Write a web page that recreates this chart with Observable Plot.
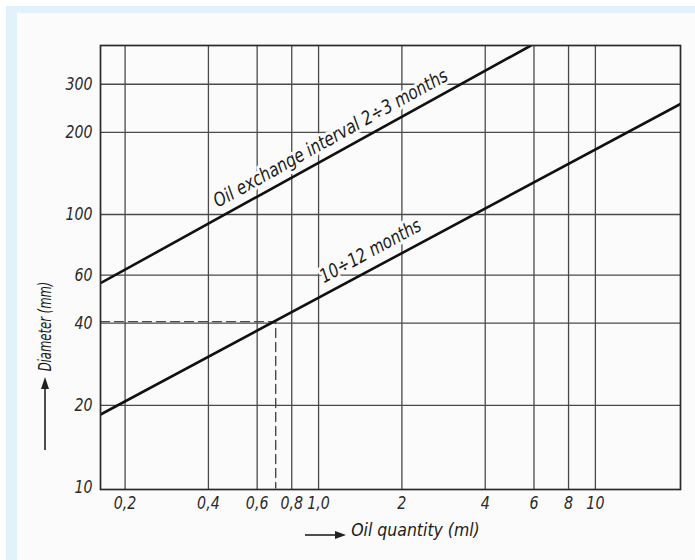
<!DOCTYPE html>
<html>
<head>
<meta charset="utf-8">
<script src="https://cdn.jsdelivr.net/npm/d3@7"></script>
<script src="https://cdn.jsdelivr.net/npm/@observablehq/plot@0.6"></script>
<style>
  html, body { margin: 0; padding: 0; background: #ffffff; }
  #page { position: relative; width: 695px; height: 560px; overflow: hidden; }
  #band { position: absolute; left: 6px; top: 6px; right: 0; bottom: 0; background: #e1f2fa; }
  #sheet { position: absolute; left: 17px; top: 13px; right: 0; bottom: 0; background: #fbfbfb; }
  #chart { position: absolute; left: 0; top: 0; }
</style>
</head>
<body>
<div id="page">
  <div id="band"></div>
  <div id="sheet"></div>
  <div id="chart"></div>
</div>
<script>
// Axis extents (log–log nomogram)
const qtyMin = 0.163, qtyMax = 20.3;
const diaMin = 9.83, diaMax = 416;

// Grid / tick positions and their printed labels
const qtyTicks = [0.2, 0.4, 0.6, 0.8, 1, 2, 4, 6, 8, 10];
const qtyTickLabels = ["0,2", "0,4", "0,6", "0,8", "1,0", "2", "4", "6", "8", "10"];
const diaGrid = [20, 40, 60, 100, 200, 300];
const diaTicks = [10, 20, 40, 60, 100, 200, 300];

// Oil exchange interval 2÷3 months
const shortQty = [0.163, 5.85];
const shortDia = [56, 416];
// Oil exchange interval 10÷12 months
const longQty = [0.163, 20.3];
const longDia = [18.5, 254];

// Worked example: 40 mm diameter -> 0.7 ml
const exampleQty = 0.7;
const exampleDia = 40;

// Curve captions (position along each line)
const captions = ["Oil exchange interval 2÷3 months", "10÷12 months"];
const captionQty = [1.105, 1.54];
const captionDia = [190, 73.5];
const captionAngle = [-29, -28.5];

const xTitle = "Oil quantity (ml)";
const yTitle = "Diameter (mm)";

const qtyLabelOf = new Map(qtyTicks.map((d, i) => [d, qtyTickLabels[i]]));
const shortLine = shortQty.map((q, i) => ({q, d: shortDia[i]}));
const longLine = longQty.map((q, i) => ({q, d: longDia[i]}));
const guide = [
  {q: qtyMin, d: exampleDia},
  {q: exampleQty, d: exampleDia},
  {q: exampleQty, d: diaMin}
];
const captionRows = captions.map((t, i) => ({t, q: captionQty[i], d: captionDia[i], a: captionAngle[i]}));

const font = "'DejaVu Sans Condensed', 'DejaVu Sans', sans-serif";
const ink = "#1a1a1a";
const gridInk = "#4a4a4a";

const chart = Plot.plot({
  width: 695,
  height: 560,
  marginLeft: 100,
  marginRight: 15,
  marginTop: 45,
  marginBottom: 71,
  style: {background: "transparent", fontFamily: font, fontStyle: "italic", color: ink},
  x: {type: "log", domain: [qtyMin, qtyMax], axis: null},
  y: {type: "log", domain: [diaMin, diaMax], axis: null},
  marks: [
    Plot.ruleX(qtyTicks, {stroke: gridInk, strokeWidth: 1.3}),
    Plot.ruleY(diaGrid, {stroke: gridInk, strokeWidth: 1.3}),
    Plot.line(guide, {x: "q", y: "d", stroke: gridInk, strokeWidth: 1.4, strokeDasharray: "9,5", dy: -1.5}),
    Plot.line(shortLine, {x: "q", y: "d", stroke: "#111", strokeWidth: 2.6, clip: true}),
    Plot.line(longLine, {x: "q", y: "d", stroke: "#111", strokeWidth: 2.6, clip: true}),
    Plot.text(captionRows, {
      x: "q", y: "d", text: "t", rotate: "a",
      fontSize: 19, fill: ink, stroke: "#fbfbfb", strokeWidth: 6,
      textAnchor: "middle", lineAnchor: "middle"
    }),
    Plot.frame({stroke: "#2a2a2a", strokeWidth: 1.7}),
    // tick labels
    Plot.text(qtyTicks, {
      x: d => d, frameAnchor: "bottom", dy: 14, lineAnchor: "middle",
      text: d => qtyLabelOf.get(d), fontSize: 17, fill: "#2a2a2a"
    }),
    Plot.text(diaTicks, {
      y: d => d, frameAnchor: "left", dx: -8, textAnchor: "end", lineAnchor: "middle",
      text: d => String(d), fontSize: 17, fill: "#2a2a2a"
    }),
    // axis titles
    Plot.text([xTitle], {
      frameAnchor: "bottom", dx: 25, dy: 46, fontSize: 18, fill: ink, textAnchor: "middle"
    }),
    Plot.text([yTitle], {
      frameAnchor: "left", dx: -55, dy: 59, rotate: -90, fontSize: 17, fill: ink, textAnchor: "middle"
    })
  ]
});

document.getElementById("chart").appendChild(chart);

// Narrow labels to a condensed face
const squeeze = new Map([
  [xTitle, 0.97],
  [yTitle, 0.76],
  [captions[0], 0.9],
  [captions[1], 0.88]
]);
d3.select(chart).selectAll("text").each(function () {
  const w = this.getComputedTextLength();
  if (w > 0) {
    const k = squeeze.get(this.textContent) ?? 0.93;
    this.setAttribute("textLength", (w * k).toFixed(1));
    this.setAttribute("lengthAdjust", "spacingAndGlyphs");
  }
});

// Direction arrows in front of the axis titles
const svg = d3.select(chart);
const arrows = svg.append("g").attr("fill", "#222").attr("stroke", "#222");
arrows.append("line").attr("x1", 305).attr("y1", 535).attr("x2", 337).attr("y2", 535).attr("stroke-width", 1.6);
arrows.append("path").attr("d", "M335,531L346,535L335,539Z").attr("stroke", "none");
arrows.append("line").attr("x1", 45).attr("y1", 450).attr("x2", 45).attr("y2", 387).attr("stroke-width", 1.6);
arrows.append("path").attr("d", "M41,389L45,377L49,389Z").attr("stroke", "none");
</script>
</body>
</html>
